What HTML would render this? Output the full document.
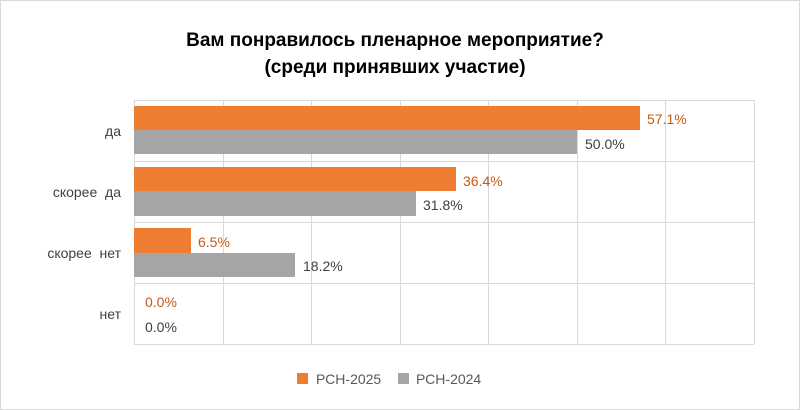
<!DOCTYPE html>
<html><head><meta charset="utf-8"><style>
html,body{margin:0;padding:0;background:#fff;}
svg{display:block;font-family:"Liberation Sans","DejaVu Sans",sans-serif;}
</style></head><body>
<svg width="800" height="410" viewBox="0 0 800 410" xmlns="http://www.w3.org/2000/svg">
<rect x="0.5" y="0.5" width="799" height="409" fill="#fff" stroke="#d9d9d9"/>
<text x="395" y="46" text-anchor="middle" font-size="19" font-weight="bold" fill="#000">Вам понравилось пленарное мероприятие?</text>
<text x="395" y="73" text-anchor="middle" font-size="19" font-weight="bold" fill="#000">(среди принявших участие)</text>
<g stroke="#d9d9d9" stroke-width="1">
<line x1="134.5" y1="100" x2="134.5" y2="344"/>
<line x1="223.5" y1="100" x2="223.5" y2="344"/>
<line x1="311.5" y1="100" x2="311.5" y2="344"/>
<line x1="400.5" y1="100" x2="400.5" y2="344"/>
<line x1="488.5" y1="100" x2="488.5" y2="344"/>
<line x1="577.5" y1="100" x2="577.5" y2="344"/>
<line x1="665.5" y1="100" x2="665.5" y2="344"/>
<line x1="754.5" y1="100" x2="754.5" y2="344"/>
<line x1="134" y1="100.5" x2="754" y2="100.5"/>
<line x1="134" y1="161.5" x2="754" y2="161.5"/>
<line x1="134" y1="222.5" x2="754" y2="222.5"/>
<line x1="134" y1="283.5" x2="754" y2="283.5"/>
<line x1="134" y1="344.5" x2="754" y2="344.5"/>
</g>
<g>
<rect x="134" y="106" width="506" height="24" fill="#ED7D31"/>
<rect x="134" y="130" width="443" height="24" fill="#A5A5A5"/>
<rect x="134" y="167" width="322" height="24" fill="#ED7D31"/>
<rect x="134" y="191" width="282" height="25" fill="#A5A5A5"/>
<rect x="134" y="228" width="57" height="25" fill="#ED7D31"/>
<rect x="134" y="253" width="161" height="24" fill="#A5A5A5"/>
</g>
<g font-size="14">
<text x="647" y="124" fill="#C55A11">57.1%</text>
<text x="585" y="149" fill="#404040">50.0%</text>
<text x="463" y="186" fill="#C55A11">36.4%</text>
<text x="423" y="210" fill="#404040">31.8%</text>
<text x="198" y="247" fill="#C55A11">6.5%</text>
<text x="303" y="271" fill="#404040">18.2%</text>
<text x="145" y="307" fill="#C55A11">0.0%</text>
<text x="145" y="332" fill="#404040">0.0%</text>
</g>
<g font-size="14" fill="#404040" text-anchor="end" xml:space="preserve">
<text x="121" y="136">да</text>
<text x="121" y="197" xml:space="preserve">скорее  да</text>
<text x="121" y="258" xml:space="preserve">скорее  нет</text>
<text x="121" y="319">нет</text>
</g>
<rect x="297" y="373" width="11" height="11" fill="#ED7D31"/>
<text x="316" y="384" font-size="14" fill="#595959">РСН-2025</text>
<rect x="398" y="373" width="11" height="11" fill="#A5A5A5"/>
<text x="416" y="384" font-size="14" fill="#595959">РСН-2024</text>
</svg>
</body></html>
